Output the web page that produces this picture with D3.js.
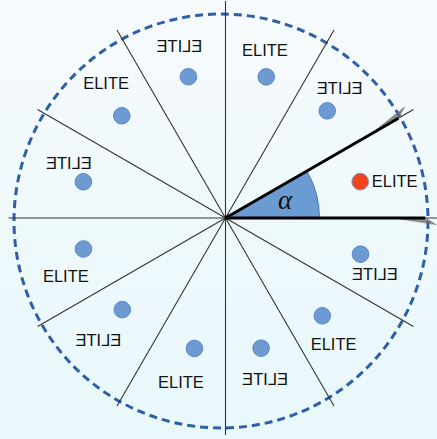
<!DOCTYPE html>
<html>
<head>
<meta charset="utf-8">
<title>Sectors</title>
<script src="https://cdnjs.cloudflare.com/ajax/libs/d3/7.8.5/d3.min.js"></script>
<style>
    html, body { margin: 0; padding: 0; }
    body { width: 437px; height: 439px; overflow: hidden; }
    text.lbl {
        font: 16.5px "Liberation Sans", Arial, sans-serif;
        fill: #111;
        text-anchor: middle;
    }
</style>
</head>
<body>
<svg id="chart" width="437" height="439"></svg>
<script>
    // sector boundaries (degrees, counter-clockwise from east)
    var rayAngles = [0, 30, 60, 90, 120, 150, 180, 210, 240, 270, 300, 330];
    // one dot + label per sector
    var dotAngles = [15.1, 46.5, 73.9, 104.7, 135.4, 165.7, 192.3, 221.6, 256.6, 285.3, 314.7, 345];
    var dotRadii = [0.643, 0.681, 0.677, 0.673, 0.671, 0.676, 0.670, 0.636, 0.618, 0.622, 0.634, 0.644];
    var labelAngles = [12.3, 48.7, 76.8, 105, 131.6, 160.7, 200, 223.9, 254.8, 283.8, 310.7, 339.5];
    var labelRadii = [0.798, 0.797, 0.795, 0.820, 0.829, 0.765, 0.783, 0.813, 0.783, 0.764, 0.764, 0.735];
    var mirrored = [false, true, false, true, false, true, false, true, false, true, false, true];
    var labelText = "ELITE";
    var chosen = 0; // highlighted sector
    var alpha = [0, 30];

    var svg = d3.select("#chart"),
        width = +svg.attr("width"),
        height = +svg.attr("height");

    var cx = 225.5, cy = 218;
    var r = d3.scaleLinear().domain([0, 1]).range([0, 217]);

    function pt(deg, rr) {
        var a = deg * Math.PI / 180;
        return [cx + rr * Math.cos(a), cy - rr * Math.sin(a)];
    }

    // background
    var grad = svg.append("defs").append("linearGradient")
        .attr("id", "bg").attr("x1", 0).attr("y1", 0).attr("x2", 0).attr("y2", 1);
    grad.append("stop").attr("offset", "0%").attr("stop-color", "#f6fafd");
    grad.append("stop").attr("offset", "100%").attr("stop-color", "#e8f8fb");
    svg.append("rect").attr("width", width).attr("height", height).attr("fill", "url(#bg)");

    // alpha wedge
    var arc = d3.arc()
        .innerRadius(0)
        .outerRadius(r(0.433))
        .startAngle(Math.PI / 2 - alpha[1] * Math.PI / 180)
        .endAngle(Math.PI / 2 - alpha[0] * Math.PI / 180);
    svg.append("path")
        .attr("transform", "translate(" + cx + "," + cy + ")")
        .attr("d", arc())
        .attr("fill", "#6b9bd3")
        .attr("stroke", "#4574b3")
        .attr("stroke-width", 1);

    // dashed circle
    svg.append("circle")
        .attr("cx", 221).attr("cy", 221).attr("r", 207)
        .attr("fill", "none")
        .attr("stroke", "#2f5fa7")
        .attr("stroke-width", 3)
        .attr("stroke-dasharray", "8,5");

    // rays
    svg.selectAll("line.ray")
        .data(rayAngles)
        .enter().append("line")
        .attr("class", "ray")
        .attr("x1", cx).attr("y1", cy)
        .attr("x2", function(d) { return pt(d, r(1))[0]; })
        .attr("y2", function(d) { return pt(d, r(1))[1]; })
        .attr("stroke", "#333")
        .attr("stroke-width", 1.1);

    // hatch at the end of each edge
    alpha.forEach(function(d, i) {
        var side = i ? 1 : -1;
        var steps = d3.range(0.80, 0.921, 0.008);
        svg.selectAll(null)
            .data(steps)
            .enter().append("line")
            .attr("x1", function(s) { return pt(d, r(s))[0]; })
            .attr("y1", function(s) { return pt(d, r(s))[1]; })
            .attr("x2", function(s) {
                var p = pt(d, r(s)), len = 3 + (s - 0.80) / 0.12 * 10;
                return p[0] + len * Math.cos((d + side * 32) * Math.PI / 180);
            })
            .attr("y2", function(s) {
                var p = pt(d, r(s)), len = 3 + (s - 0.80) / 0.12 * 10;
                return p[1] - len * Math.sin((d + side * 32) * Math.PI / 180);
            })
            .attr("stroke", "#666")
            .attr("stroke-width", 0.9);
    });

    // highlighted sector edges
    svg.selectAll("line.edge")
        .data(alpha)
        .enter().append("line")
        .attr("class", "edge")
        .attr("x1", cx).attr("y1", cy)
        .attr("x2", function(d) { return pt(d, r(0.92))[0]; })
        .attr("y2", function(d) { return pt(d, r(0.92))[1]; })
        .attr("stroke", "#000")
        .attr("stroke-width", 3);

    // alpha symbol
    svg.append("text")
        .attr("x", 285)
        .attr("y", 208.5)
        .attr("text-anchor", "middle")
        .style("font", "italic 27px 'Liberation Serif', 'DejaVu Serif', serif")
        .style("fill", "#111")
        .text("\u03b1");

    // dots
    svg.selectAll("circle.dot")
        .data(dotAngles)
        .enter().append("circle")
        .attr("class", "dot")
        .attr("cx", function(d, i) { return pt(d, r(dotRadii[i]))[0]; })
        .attr("cy", function(d, i) { return pt(d, r(dotRadii[i]))[1]; })
        .attr("r", 8.3)
        .attr("fill", function(d, i) { return i === chosen ? "#f2431d" : "#6d9ad2"; })
        .attr("stroke", function(d, i) { return i === chosen ? "#7f8fc8" : "#5b89c6"; })
        .attr("stroke-width", 1);

    // labels
    svg.selectAll("text.lbl")
        .data(labelAngles)
        .enter().append("text")
        .attr("class", "lbl")
        .attr("transform", function(d, i) {
            var p = pt(d, r(labelRadii[i]));
            return "translate(" + p[0] + "," + p[1] + ")" + (mirrored[i] ? " scale(-1,1)" : "");
        })
        .attr("dy", "0.36em")
        .text(labelText);
</script>
</body>
</html>
